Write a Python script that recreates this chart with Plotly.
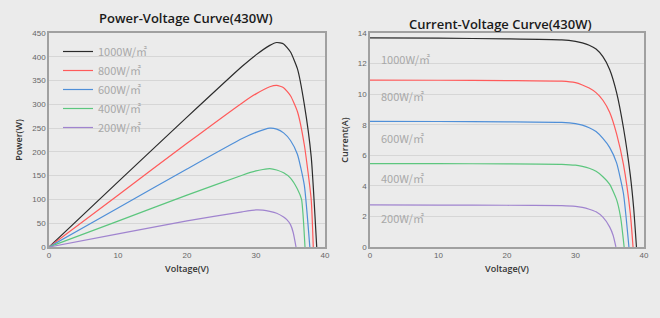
import plotly.graph_objects as go

labels = ["1000W/㎡", "800W/㎡", "600W/㎡", "400W/㎡", "200W/㎡"]
colors = ["#2b2b2b", "#ff5a5a", "#4f8fd8", "#5cc67e", "#a084cf"]

# Power-voltage curves
pv_v = [
    [0, 10, 20, 28, 30, 32, 33, 34, 35, 36, 37, 38, 38.8],
    [0, 10, 20, 28, 30, 32, 33, 34, 35, 36, 37, 38, 38.3],
    [0, 10, 20, 28, 30, 32, 33, 34, 35, 36, 37, 37.8],
    [0, 10, 20, 28, 30, 31, 32, 33, 34, 35, 36, 36.6, 37.1],
    [0, 10, 20, 28, 30, 31, 32, 33, 34, 34.5, 35, 35.4, 35.8],
]
pv_p = [
    [0, 137, 273, 380, 404, 424, 430, 427, 410, 375, 300, 190, 0],
    [0, 109, 218, 303, 322, 337, 340, 335, 318, 285, 215, 100, 0],
    [0, 82, 164, 228, 241, 250, 248, 240, 224, 195, 130, 0],
    [0, 54.5, 109, 151, 160, 163, 165, 162, 156, 145, 122, 100, 0],
    [0, 27.5, 55, 74, 78, 77.5, 75, 71, 63, 57, 47, 30, 0],
]

# Current-voltage curves
iv_v = [
    [0, 10, 20, 28, 30, 31, 32, 33, 34, 35, 36, 37, 38, 38.5, 38.9],
    [0, 10, 20, 28, 30, 31, 32, 33, 34, 35, 36, 37, 38, 38.4],
    [0, 10, 20, 28, 30, 31, 32, 33, 34, 35, 36, 37, 37.8],
    [0, 10, 20, 28, 30, 31, 32, 33, 34, 35, 36, 36.6, 37.1],
    [0, 10, 20, 28, 30, 31, 32, 33, 34, 35, 35.5, 35.9],
]
iv_i = [
    [13.68, 13.66, 13.62, 13.55, 13.45, 13.35, 13.2, 12.95, 12.45, 11.6, 10.1, 7.8, 4.7, 2.5, 0],
    [10.92, 10.91, 10.89, 10.85, 10.75, 10.6, 10.4, 10.1, 9.6, 8.8, 7.4, 5.4, 2.2, 0],
    [8.22, 8.21, 8.19, 8.15, 8.07, 7.97, 7.8, 7.55, 7.1, 6.5, 5.5, 3.5, 0],
    [5.46, 5.45, 5.44, 5.41, 5.35, 5.27, 5.15, 4.95, 4.6, 4.1, 3.1, 1.9, 0],
    [2.75, 2.74, 2.73, 2.71, 2.66, 2.59, 2.47, 2.3, 1.95, 1.3, 0.75, 0],
]
iv_label_y = [12.3, 9.85, 7.1, 4.5, 1.9]

fig = go.Figure()
for k in range(5):
    fig.add_trace(go.Scatter(x=pv_v[k], y=pv_p[k], mode="lines", name=labels[k],
                             line=dict(color=colors[k], width=1.2, shape="spline", smoothing=0.5),
                             xaxis="x", yaxis="y"))
for k in range(5):
    fig.add_trace(go.Scatter(x=iv_v[k], y=iv_i[k], mode="lines", name=labels[k],
                             line=dict(color=colors[k], width=1.2, shape="spline", smoothing=0.5),
                             xaxis="x2", yaxis="y2", showlegend=False))

font = "Liberation Sans, Arial, sans-serif"
ann = []
for k in range(5):
    ann.append(dict(x=1.3, y=iv_label_y[k], xref="x2", yref="y2", text=labels[k],
                    showarrow=False, xanchor="left", yanchor="middle",
                    font=dict(size=11, color="#a8a8a8", family="Noto Sans CJK SC")))
ann += [
    dict(x=186 / 660, y=1 - 18 / 318, xref="paper", yref="paper", text="Power-Voltage Curve(430W)",
         showarrow=False, xanchor="center", yanchor="middle",
         font=dict(size=13, color="#1a1a1a", family="Open Sans", weight=600)),
    dict(x=500 / 660, y=1 - 24 / 318, xref="paper", yref="paper", text="Current-Voltage Curve(430W)",
         showarrow=False, xanchor="center", yanchor="middle",
         font=dict(size=13, color="#1a1a1a", family="Open Sans", weight=600)),
]

axis_common = dict(showline=True, mirror=True, linecolor="#a0a0a0", linewidth=1.5,
                   tickfont=dict(size=8, color="#666", family=font), zeroline=False,
                   ticks="", automargin=False,
                   title_font=dict(size=9, color="#333", family="Open Sans", weight=600))

fig.update_layout(
    width=660, height=318,
    margin=dict(l=0, r=0, t=0, b=0),
    paper_bgcolor="#ebebeb", plot_bgcolor="#ebebeb",
    showlegend=True,
    legend=dict(x=58 / 660, y=1 - 37 / 318, xanchor="left", yanchor="top",
                bgcolor="rgba(0,0,0,0)", font=dict(size=11, color="#a8a8a8", family="Noto Sans CJK SC"),
                tracegroupgap=0),
    xaxis=dict(domain=[49 / 660, 325 / 660], range=[0, 40], dtick=10, showgrid=False,
               anchor="y", title=dict(text="Voltage(V)", standoff=6), **axis_common),
    yaxis=dict(domain=[71 / 318, 285 / 318], range=[0, 450], dtick=50, showgrid=True,
               gridcolor="#d6d6d6", gridwidth=1, anchor="x",
               title=dict(text="Power(W)", standoff=8), **axis_common),
    xaxis2=dict(domain=[370 / 660, 644 / 660], range=[0, 40], dtick=10, showgrid=False,
                anchor="y2", title=dict(text="Voltage(V)", standoff=6), **axis_common),
    yaxis2=dict(domain=[71 / 318, 285 / 318], range=[0, 14], dtick=2, showgrid=True,
                gridcolor="#d6d6d6", gridwidth=1, anchor="x2",
                title=dict(text="Current(A)", standoff=8), **axis_common),
    annotations=ann,
)

fig.write_html("out.html", config={"displayModeBar": False},
               post_script="document.body.style.margin='0';document.body.style.background='#ebebeb';")
